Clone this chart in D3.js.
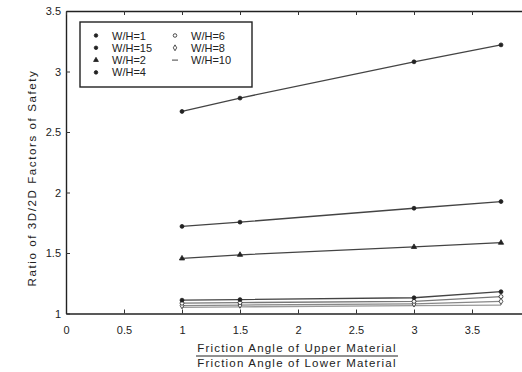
<!DOCTYPE html>
<html>
<head>
<meta charset="utf-8">
<script src="https://cdn.jsdelivr.net/npm/d3@7"></script>
<style>
  body { margin: 0; background: #fff; }
  text { font-family: "Liberation Sans", Arial, sans-serif; fill: #222; }
</style>
</head>
<body>
<svg id="chart"></svg>
<script>
// friction angle ratios (x) and 3D/2D ratios per W/H
var ratios = [1, 1.5, 3, 3.75];
var wh1   = [2.67, 2.78, 3.08, 3.22];
var wh15  = [1.72, 1.755, 1.87, 1.925];
var wh2   = [1.455, 1.485, 1.55, 1.585];
var wh4   = [1.11, 1.115, 1.13, 1.18];
var wh6   = [1.085, 1.09, 1.10, 1.14];
var wh8   = [1.065, 1.07, 1.08, 1.10];
var wh10  = [1.05, 1.055, 1.065, 1.07];
var seriesNames = ["W/H=1", "W/H=15", "W/H=2", "W/H=4", "W/H=6", "W/H=8", "W/H=10"];
var xTicks = [0, 0.5, 1, 1.5, 2, 2.5, 3, 3.5];
var xTickLabels = ["0", "0.5", "1", "1.5", "2", "2.5", "3", "3.5"];
var yTicks = [1, 1.5, 2, 2.5, 3, 3.5];
var yTickLabels = ["1", "1.5", "2", "2.5", "3", "3.5"];

var series = [
  {name: seriesNames[0], values: wh1,  color: "#444", symbol: d3.symbolCircle,   fill: true},
  {name: seriesNames[1], values: wh15, color: "#444", symbol: d3.symbolCircle,   fill: true},
  {name: seriesNames[2], values: wh2,  color: "#444", symbol: d3.symbolTriangle, fill: true},
  {name: seriesNames[3], values: wh4,  color: "#444", symbol: d3.symbolCircle,   fill: true},
  {name: seriesNames[4], values: wh6,  color: "#777", symbol: d3.symbolCircle,   fill: false},
  {name: seriesNames[5], values: wh8,  color: "#888", symbol: d3.symbolDiamond,  fill: false},
  {name: seriesNames[6], values: wh10, color: "#999", symbol: null,              fill: false}
];

var width = 522, height = 372;
var margin = {top: 11, bottom: 58, left: 66, right: -8};

var svg = d3.select("#chart")
  .attr("width", width)
  .attr("height", height);

var xScale = d3.scaleLinear().domain([0, 4]).range([margin.left, width - margin.right]);
var yScale = d3.scaleLinear().domain([1, 3.5]).range([height - margin.bottom - 0.5, margin.top]);

var x0 = xScale.range()[0], x1 = xScale.range()[1];
var y0 = yScale.range()[0], y1 = yScale.range()[1];

// inward ticks, MATLAB style
var xAxis = d3.axisBottom(xScale).tickValues(xTicks)
  .tickFormat(function (d, i) { return xTickLabels[i]; })
  .tickSizeInner(-4).tickSizeOuter(0).tickPadding(13);
var yAxis = d3.axisLeft(yScale).tickValues(yTicks)
  .tickFormat(function (d, i) { return yTickLabels[i]; })
  .tickSizeInner(-4).tickSizeOuter(0).tickPadding(5);
var xTop = d3.axisTop(xScale).tickValues(xTicks).tickFormat("").tickSizeInner(-4).tickSizeOuter(0);

svg.append("g").attr("transform", "translate(0," + y0 + ")").call(xAxis);
svg.append("g").attr("transform", "translate(" + x0 + ",0)").call(yAxis);
svg.append("g").attr("transform", "translate(0," + y1 + ")").call(xTop);

svg.selectAll(".domain").attr("stroke", "#222").attr("stroke-width", 1.4);
svg.selectAll(".tick line").attr("stroke", "#333");
svg.selectAll(".tick text").style("font-size", "11px").attr("fill", "#222");

// lines
var line = d3.line()
  .x(function (d, i) { return xScale(ratios[i]); })
  .y(function (d) { return yScale(d); });

var groups = svg.selectAll(".series")
  .data(series.slice().reverse())
  .enter().append("g")
  .attr("class", "series");

groups.append("path")
  .attr("d", function (d) { return line(d.values); })
  .attr("fill", "none")
  .attr("stroke", function (d) { return d.color; })
  .attr("stroke-width", 1.3);

groups.each(function (s) {
  if (!s.symbol) return;
  d3.select(this).selectAll("path.pt")
    .data(s.values)
    .enter().append("path")
    .attr("class", "pt")
    .attr("d", d3.symbol().type(s.symbol).size(12))
    .attr("transform", function (d, i) { return "translate(" + xScale(ratios[i]) + "," + yScale(d) + ")"; })
    .attr("fill", s.fill ? "#222" : "#fff")
    .attr("stroke", "#222")
    .attr("stroke-width", 0.8);
});

// legend
var legend = svg.append("g");
legend.append("rect")
  .attr("x", 80).attr("y", 22).attr("width", 172).attr("height", 65)
  .attr("fill", "#fff").attr("stroke", "#222").attr("stroke-width", 1.4);

series.forEach(function (s, i) {
  var col = i < 4 ? 0 : 1;
  var row = i < 4 ? i : i - 4;
  var mx = col === 0 ? 96 : 175;
  var my = 35.5 + row * 12.3;
  if (s.symbol) {
    legend.append("path")
      .attr("d", d3.symbol().type(s.symbol).size(10))
      .attr("transform", "translate(" + mx + "," + my + ")")
      .attr("fill", s.fill ? "#222" : "#fff")
      .attr("stroke", "#222").attr("stroke-width", 0.8);
  } else {
    legend.append("line")
      .attr("x1", mx - 3).attr("x2", mx + 3).attr("y1", my).attr("y2", my)
      .attr("stroke", "#444").attr("stroke-width", 1);
  }
  legend.append("text")
    .attr("x", mx + 16).attr("y", my + 4)
    .style("font-size", "11px")
    .text(s.name);
});

// axis titles
svg.append("text")
  .attr("transform", "translate(36,178) rotate(-90)")
  .attr("text-anchor", "middle")
  .style("font-size", "11.5px")
  .style("letter-spacing", "1.6px")
  .text("Ratio of 3D/2D Factors of Safety");

var cx = 297;
svg.append("text")
  .attr("x", cx).attr("y", 352)
  .attr("text-anchor", "middle")
  .style("font-size", "11.5px")
  .style("letter-spacing", "1.2px")
  .text("Friction Angle of Upper Material");
svg.append("line")
  .attr("x1", cx - 101).attr("x2", cx + 101)
  .attr("y1", 356).attr("y2", 356)
  .attr("stroke", "#222").attr("stroke-width", 1);
svg.append("text")
  .attr("x", cx).attr("y", 367)
  .attr("text-anchor", "middle")
  .style("font-size", "11.5px")
  .style("letter-spacing", "1.2px")
  .text("Friction Angle of Lower Material");
</script>
</body>
</html>
